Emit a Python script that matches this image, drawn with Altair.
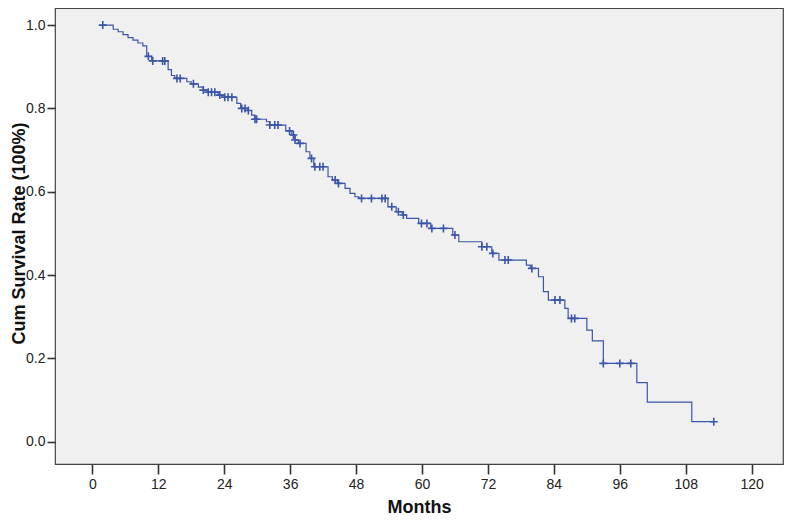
import altair as alt
import pandas as pd

# Kaplan-Meier step curve: month at which survival steps, and survival after the step
step_months = [1.9, 3.8, 4.7, 5.6, 6.5, 7.4, 8.3, 9.2, 9.9, 10.8, 13.8, 14.4, 15.0, 17.2, 18.0,
               19.3, 20.2, 21.0, 22.9, 24.0, 26.3, 27.0, 28.3, 29.0, 29.6, 31.7, 32.3, 35.2,
               36.3, 36.9, 37.5, 38.9, 39.6, 40.3, 42.9, 43.7, 44.6, 46.0, 46.9, 47.8, 48.5,
               53.8, 55.3, 56.4, 57.2, 59.4, 61.6, 65.6, 66.7, 70.9, 72.7, 74.0, 79.0, 79.7,
               81.2, 82.1, 83.0, 86.0, 86.6, 90.0, 91.0, 93.0, 99.1, 101.0, 109.1, 113.1]
step_surv = [1.000, 0.990, 0.984, 0.977, 0.970, 0.964, 0.957, 0.950, 0.925, 0.914, 0.893, 0.879,
             0.872, 0.864, 0.859, 0.851, 0.844, 0.839, 0.832, 0.827, 0.812, 0.800, 0.795, 0.784,
             0.774, 0.768, 0.760, 0.746, 0.736, 0.724, 0.716, 0.696, 0.680, 0.660, 0.636, 0.628,
             0.620, 0.608, 0.596, 0.588, 0.584, 0.564, 0.552, 0.544, 0.536, 0.524, 0.512, 0.496,
             0.480, 0.468, 0.452, 0.436, 0.424, 0.416, 0.396, 0.360, 0.340, 0.320, 0.296, 0.268,
             0.242, 0.188, 0.142, 0.095, 0.048, 0.048]

# Censored observations (+ marks)
cens_months = [1.9, 10.2, 11.0, 12.8, 13.2, 15.4, 16.0, 18.4, 20.2, 21.1, 21.7, 22.3, 23.2, 24.1,
               24.7, 25.4, 27.2, 27.8, 28.4, 29.6, 29.9, 32.3, 33.2, 33.8, 35.9, 36.6, 36.9,
               37.8, 39.9, 40.5, 41.4, 42.0, 44.2, 44.8, 49.0, 50.8, 52.7, 53.3, 54.5, 55.7,
               56.6, 59.9, 60.9, 61.8, 63.9, 66.0, 70.9, 71.8, 72.9, 75.1, 75.7, 80.0, 84.2,
               85.1, 87.2, 87.8, 93.0, 96.0, 98.0, 113.1]
cens_surv = [1.000, 0.925, 0.914, 0.914, 0.914, 0.872, 0.872, 0.859, 0.844, 0.839, 0.839, 0.839,
             0.832, 0.827, 0.827, 0.827, 0.800, 0.800, 0.795, 0.774, 0.774, 0.760, 0.760, 0.760,
             0.746, 0.736, 0.724, 0.716, 0.680, 0.660, 0.660, 0.660, 0.628, 0.620, 0.584, 0.584,
             0.584, 0.584, 0.564, 0.552, 0.544, 0.524, 0.524, 0.512, 0.512, 0.496, 0.468, 0.468,
             0.452, 0.436, 0.436, 0.416, 0.340, 0.340, 0.296, 0.296, 0.188, 0.188, 0.188, 0.048]

x_ticks = [0, 12, 24, 36, 48, 60, 72, 84, 96, 108, 120]
y_ticks = [0.0, 0.2, 0.4, 0.6, 0.8, 1.0]

steps = pd.DataFrame({"month": step_months, "surv": step_surv})
cens = pd.DataFrame({"month": cens_months, "surv": cens_surv})

LINE = "#3B55A8"
FONT = "Liberation Sans"

xscale = alt.Scale(domain=[-6.79, 125.7], nice=False, zero=False)
yscale = alt.Scale(domain=[-0.0535, 1.041], nice=False, zero=False)

xaxis = alt.Axis(values=x_ticks, title="Months", grid=False, domain=False,
                 tickSize=10, tickWidth=1.6, tickColor="#333", labelPadding=3,
                 labelFont=FONT, labelFontSize=14, labelColor="#222",
                 titleFont=FONT, titleFontSize=18, titleFontWeight="bold", titleColor="#111",
                 titleBaseline="middle", titleY=43)
yaxis = alt.Axis(values=y_ticks, format=".1f", title="Cum Survival Rate (100%)", grid=False,
                 domain=False, tickSize=8, tickWidth=1.6, tickColor="#333", labelPadding=2,
                 labelFont=FONT, labelFontSize=14, labelColor="#222",
                 titleFont=FONT, titleFontSize=18, titleFontWeight="bold", titleColor="#111",
                 titleX=-27, titleY=225, titleBaseline="bottom", titleAngle=270)

line = alt.Chart(steps).mark_line(interpolate="step-after", color=LINE, strokeWidth=1.2).encode(
    x=alt.X("month:Q", scale=xscale, axis=xaxis),
    y=alt.Y("surv:Q", scale=yscale, axis=yaxis),
)

plus = alt.Chart(cens).mark_point(shape="M-1,0L1,0M0,-1L0,1", size=64, color=LINE,
                                  strokeWidth=1.6, filled=False, opacity=1).encode(
    x=alt.X("month:Q", scale=xscale),
    y=alt.Y("surv:Q", scale=yscale),
)

chart = (line + plus).properties(
    width=728, height=456,
    autosize=alt.AutoSizeParams(type="none"),
    padding={"left": 47, "top": 0, "right": 1, "bottom": 52},
    background="white",
).configure_view(fill="#F0F0F0", stroke="#444", strokeWidth=1.2)

chart.save("out.html", embed_options={"renderer": "svg", "actions": False})
